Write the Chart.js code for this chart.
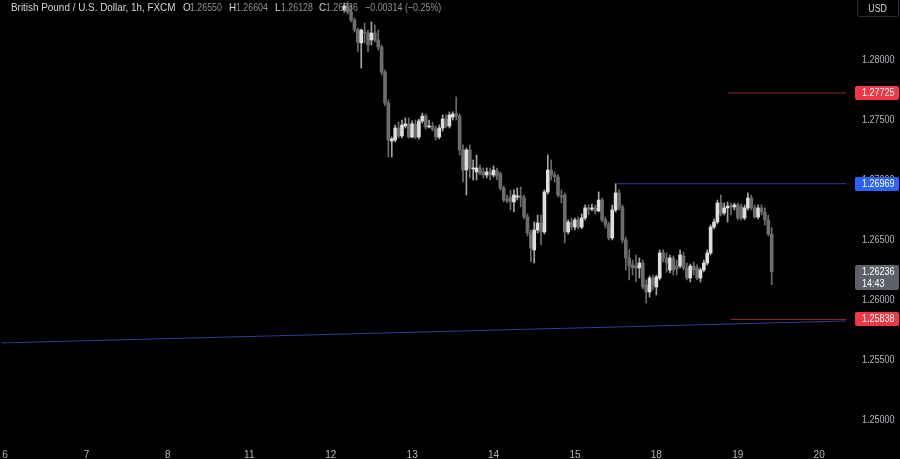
<!DOCTYPE html>
<html>
<head>
<meta charset="utf-8">
<script src="https://cdn.jsdelivr.net/npm/chart.js@4.4.1/dist/chart.umd.min.js"></script>
<style>
    html, body { margin: 0; padding: 0; background: #000; }
    #wrap { position: relative; width: 900px; height: 459px; overflow: hidden; }
    #chart { position: absolute; left: 0; top: 0; }
    #legend-top span {
        position: absolute; top: 0px;
        font: 11px "Liberation Sans", Arial, sans-serif;
        white-space: pre; line-height: 14px; transform-origin: 0 50%;
    }
    #currency {
        position: absolute; left: 857px; top: -1px; width: 42px; height: 18px;
        border: 1px solid #2a2e39; border-radius: 3px; box-sizing: border-box;
        font: 11px "Liberation Sans", Arial, sans-serif;
        color: #d1d4dc; text-align: center; line-height: 16px;
    }
    #currency span { display: inline-block; transform: scaleX(0.8); }
</style>
</head>
<body>
<div id="wrap">
    <canvas id="chart" width="900" height="459"></canvas>
    <div id="legend-top"></div>
    <div id="currency"><span>USD</span></div>
</div>
<script>
// === GBP/USD 1h candles (FXCM) ===
// hour slots skip the weekend, slot 0 = Dec 12 00:00
const firstCandleHour = 4;
const openPrices = [
    1.28417, 1.28450, 1.28400, 1.28333, 1.28250, 1.28142, 1.28233, 1.28225, 1.28167, 1.28225,
    1.28167, 1.28108, 1.27900, 1.27642, 1.27325, 1.27333, 1.27433, 1.27367, 1.27450, 1.27467,
    1.27358, 1.27467, 1.27358, 1.27492, 1.27533, 1.27442, 1.27450, 1.27425, 1.27358, 1.27433,
    1.27508, 1.27450, 1.27525, 1.27550, 1.27533, 1.27250, 1.27083, 1.27250, 1.27092, 1.27067,
    1.27100, 1.27067, 1.27042, 1.27067, 1.27042, 1.27075, 1.27050, 1.26933, 1.26842, 1.26858,
    1.26817, 1.26858, 1.26867, 1.26850, 1.26692, 1.26558, 1.26417, 1.26583, 1.26642, 1.26567,
    1.26900, 1.27083, 1.27042, 1.27025, 1.26867, 1.26875, 1.26567, 1.26650, 1.26608, 1.26667,
    1.26608, 1.26683, 1.26767, 1.26758, 1.26767, 1.26742, 1.26833, 1.26667, 1.26625, 1.26517,
    1.26750, 1.26892, 1.26775, 1.26500, 1.26350, 1.26292, 1.26283, 1.26267, 1.26308, 1.26125,
    1.26067, 1.26183, 1.26108, 1.26183, 1.26392, 1.26350, 1.26250, 1.26350, 1.26283, 1.26283,
    1.26367, 1.26267, 1.26183, 1.26283, 1.26267, 1.26183, 1.26250, 1.26308, 1.26392, 1.26608,
    1.26650, 1.26808, 1.26725, 1.26767, 1.26783, 1.26775, 1.26792, 1.26775, 1.26683, 1.26767,
    1.26850, 1.26767, 1.26692, 1.26767, 1.26733, 1.26667, 1.26550
];
const highPrices = [
    1.28475, 1.28483, 1.28458, 1.28350, 1.28267, 1.28258, 1.28308, 1.28250, 1.28317, 1.28292,
    1.28250, 1.28125, 1.27917, 1.27667, 1.27358, 1.27458, 1.27483, 1.27500, 1.27517, 1.27517,
    1.27492, 1.27500, 1.27508, 1.27558, 1.27550, 1.27500, 1.27483, 1.27450, 1.27458, 1.27542,
    1.27542, 1.27567, 1.27567, 1.27692, 1.27550, 1.27292, 1.27267, 1.27292, 1.27167, 1.27208,
    1.27125, 1.27100, 1.27100, 1.27100, 1.27117, 1.27100, 1.27067, 1.26950, 1.26875, 1.26917,
    1.26917, 1.26933, 1.26942, 1.26875, 1.26717, 1.26583, 1.26650, 1.26708, 1.26708, 1.26917,
    1.27208, 1.27167, 1.27067, 1.27042, 1.26917, 1.26892, 1.26667, 1.26683, 1.26683, 1.26692,
    1.26717, 1.26792, 1.26792, 1.26800, 1.26792, 1.26900, 1.26850, 1.26692, 1.26650, 1.26792,
    1.26969, 1.26917, 1.26792, 1.26525, 1.26417, 1.26333, 1.26375, 1.26350, 1.26333, 1.26167,
    1.26200, 1.26208, 1.26208, 1.26417, 1.26417, 1.26392, 1.26375, 1.26367, 1.26333, 1.26417,
    1.26400, 1.26308, 1.26300, 1.26317, 1.26292, 1.26267, 1.26333, 1.26417, 1.26625, 1.26675,
    1.26833, 1.26875, 1.26808, 1.26817, 1.26808, 1.26808, 1.26808, 1.26800, 1.26792, 1.26892,
    1.26875, 1.26792, 1.26792, 1.26792, 1.26767, 1.26708, 1.26604
];
const lowPrices = [
    1.28400, 1.28383, 1.28317, 1.28233, 1.28067, 1.27933, 1.28142, 1.28067, 1.28125, 1.28150,
    1.28083, 1.27875, 1.27617, 1.27192, 1.27192, 1.27317, 1.27350, 1.27350, 1.27433, 1.27350,
    1.27350, 1.27342, 1.27342, 1.27475, 1.27425, 1.27433, 1.27408, 1.27333, 1.27342, 1.27408,
    1.27433, 1.27433, 1.27500, 1.27500, 1.27208, 1.26983, 1.26875, 1.27017, 1.27000, 1.27000,
    1.27042, 1.27017, 1.27017, 1.27000, 1.27025, 1.27000, 1.26917, 1.26817, 1.26808, 1.26750,
    1.26733, 1.26833, 1.26775, 1.26675, 1.26533, 1.26317, 1.26308, 1.26558, 1.26458, 1.26550,
    1.26883, 1.27000, 1.26983, 1.26858, 1.26808, 1.26475, 1.26550, 1.26583, 1.26583, 1.26592,
    1.26592, 1.26667, 1.26708, 1.26742, 1.26717, 1.26733, 1.26650, 1.26600, 1.26500, 1.26500,
    1.26733, 1.26750, 1.26475, 1.26250, 1.26167, 1.26208, 1.26150, 1.26183, 1.26092, 1.25975,
    1.26025, 1.26083, 1.26042, 1.26167, 1.26317, 1.26233, 1.26225, 1.26208, 1.26208, 1.26267,
    1.26250, 1.26167, 1.26150, 1.26208, 1.26167, 1.26150, 1.26233, 1.26292, 1.26375, 1.26592,
    1.26633, 1.26700, 1.26708, 1.26650, 1.26708, 1.26750, 1.26667, 1.26667, 1.26667, 1.26750,
    1.26750, 1.26683, 1.26675, 1.26708, 1.26625, 1.26533, 1.26128
];
const closePrices = [
    1.28450, 1.28400, 1.28333, 1.28250, 1.28150, 1.28250, 1.28225, 1.28125, 1.28225, 1.28167,
    1.28108, 1.27900, 1.27642, 1.27333, 1.27342, 1.27433, 1.27367, 1.27458, 1.27467, 1.27358,
    1.27467, 1.27358, 1.27492, 1.27533, 1.27442, 1.27450, 1.27425, 1.27358, 1.27433, 1.27508,
    1.27450, 1.27542, 1.27550, 1.27533, 1.27250, 1.27083, 1.27250, 1.27100, 1.27100, 1.27100,
    1.27058, 1.27042, 1.27067, 1.27042, 1.27083, 1.27033, 1.26933, 1.26833, 1.26825, 1.26817,
    1.26875, 1.26867, 1.26850, 1.26692, 1.26558, 1.26433, 1.26583, 1.26642, 1.26567, 1.26900,
    1.27083, 1.27042, 1.27025, 1.26875, 1.26858, 1.26567, 1.26650, 1.26608, 1.26667, 1.26608,
    1.26683, 1.26767, 1.26750, 1.26767, 1.26742, 1.26833, 1.26667, 1.26625, 1.26517, 1.26750,
    1.26892, 1.26775, 1.26500, 1.26350, 1.26283, 1.26267, 1.26267, 1.26308, 1.26108, 1.26067,
    1.26183, 1.26125, 1.26192, 1.26392, 1.26350, 1.26308, 1.26350, 1.26250, 1.26258, 1.26375,
    1.26267, 1.26183, 1.26283, 1.26250, 1.26183, 1.26250, 1.26308, 1.26392, 1.26608, 1.26650,
    1.26808, 1.26717, 1.26767, 1.26783, 1.26775, 1.26792, 1.26683, 1.26683, 1.26767, 1.26850,
    1.26767, 1.26692, 1.26767, 1.26733, 1.26667, 1.26550, 1.26236
];

// x axis: day labels at the first hour of each trading day
const dayTickHours = [-96, -72, -48, -24, 0, 24, 48, 72, 96, 120, 144];
const dayTickLabels = ['6', '7', '8', '11', '12', '13', '14', '15', '18', '19', '20'];
const firstSlotHour = -97;
const lastSlotHour = 152;

// y axis
const priceMin = 1.24808;
const priceMax = 1.285;
const priceStep = 0.005;

// drawn levels
const resistanceLevel = 1.27725;
const resistanceFromHour = 117;
const swingHighLevel = 1.26969;
const swingHighFromHour = 84;
const supportLevel = 1.25838;
const supportFromHour = 118;
const trendlineHours = [-97, 152];
const trendlinePrices = [1.25642, 1.25825];
const barCountdown = '14:43';

const FONT = '"Liberation Sans", Arial, sans-serif';
const AXIS_TEXT = '#b2b5be';
const UP_BODY = '#dedede';
const UP_WICK = '#a5a5a5';
const DOWN_BODY = '#6c6c70';
const DOWN_WICK = '#6c6c70';

// --- Header (last bar OHLC) ---
function renderHeader() {
    const n = closePrices.length - 1;
    const change = closePrices[n] - closePrices[n - 1];
    const pct = change / closePrices[n - 1] * 100;
    const sign = v => (v < 0 ? '\u2212' : '+');
    const items = [
        { text: 'British Pound / U.S. Dollar, 1h, FXCM', x: 11, sx: 0.9, color: '#d1d4dc' },
        { text: 'O', x: 183, sx: 0.9, color: '#d1d4dc' },
        { text: openPrices[n].toFixed(5), x: 190, sx: 0.8, color: '#8c8f98' },
        { text: 'H', x: 229, sx: 0.9, color: '#d1d4dc' },
        { text: highPrices[n].toFixed(5), x: 236, sx: 0.8, color: '#8c8f98' },
        { text: 'L', x: 275, sx: 0.9, color: '#d1d4dc' },
        { text: lowPrices[n].toFixed(5), x: 281, sx: 0.8, color: '#8c8f98' },
        { text: 'C', x: 319, sx: 0.9, color: '#d1d4dc' },
        { text: closePrices[n].toFixed(5), x: 326, sx: 0.8, color: '#8c8f98' },
        { text: sign(change) + Math.abs(change).toFixed(5) + ' (' + sign(pct) + Math.abs(pct).toFixed(2) + '%)',
          x: 365, sx: 0.81, color: '#8c8f98' }
    ];
    const el = document.getElementById('legend-top');
    items.forEach(it => {
        const s = document.createElement('span');
        s.textContent = it.text;
        s.style.left = it.x + 'px';
        s.style.color = it.color;
        s.style.transform = 'scaleX(' + it.sx + ')';
        el.appendChild(s);
    });
}

// --- Slots ---
const slotHours = [];
for (let h = firstSlotHour; h <= lastSlotHour; h++) slotHours.push(h);

function candleAt(h) {
    const k = h - firstCandleHour;
    return (k >= 0 && k < closePrices.length) ? k : -1;
}
const bodyData = slotHours.map(h => { const k = candleAt(h); return k < 0 ? null : [openPrices[k], closePrices[k]]; });
const wickData = slotHours.map(h => { const k = candleAt(h); return k < 0 ? null : [lowPrices[k], highPrices[k]]; });
const bodyColors = slotHours.map(h => { const k = candleAt(h); return k >= 0 && closePrices[k] >= openPrices[k] ? UP_BODY : DOWN_BODY; });
const wickColors = slotHours.map(h => { const k = candleAt(h); return k >= 0 && closePrices[k] >= openPrices[k] ? UP_WICK : DOWN_WICK; });

function segment(fromHour, toHour, a, b) {
    return slotHours.map(h => h === fromHour ? a : (h === toHour ? b : null));
}

// --- Price axis labels and tags (narrow text like the TV screenshot) ---
const priceTags = [
    { value: resistanceLevel, color: '#f23645' },
    { value: swingHighLevel, color: '#2962ff' },
    { value: supportLevel, color: '#f23645' }
];

function narrowText(ctx, text, x, y) {
    ctx.save();
    ctx.translate(x, y);
    ctx.scale(0.9, 1);
    ctx.fillText(text, 0, 0);
    ctx.restore();
}

const priceAxisPlugin = {
    id: 'priceAxis',
    afterDraw(chart) {
        const ctx = chart.ctx;
        const y = chart.scales.y;
        const x0 = y.left + 7, x1 = chart.width - 1, tx = y.left + 14;
        ctx.save();
        ctx.font = '10px ' + FONT;
        ctx.textBaseline = 'middle';
        ctx.textAlign = 'left';
        // tick labels
        ctx.fillStyle = AXIS_TEXT;
        y.ticks.forEach(t => {
            if (t.value > 1.2825) return;
            narrowText(ctx, t.value.toFixed(5), tx, Math.round(y.getPixelForValue(t.value)) + 0.5);
        });
        // level tags
        priceTags.forEach(t => {
            const py = Math.round(y.getPixelForValue(t.value));
            ctx.fillStyle = t.color;
            ctx.beginPath();
            ctx.roundRect(x0, py - 7, x1 - x0, 14, 2);
            ctx.fill();
            ctx.fillStyle = '#ffffff';
            narrowText(ctx, t.value.toFixed(5), tx, py + 0.5);
        });
        // last price + countdown
        const last = closePrices[closePrices.length - 1];
        const py = Math.round(y.getPixelForValue(last));
        ctx.fillStyle = '#5d6068';
        ctx.beginPath();
        ctx.roundRect(x0, py - 7, x1 - x0, 25, 2);
        ctx.fill();
        ctx.fillStyle = '#ffffff';
        narrowText(ctx, last.toFixed(5), tx, py + 0.5);
        narrowText(ctx, barCountdown, tx, py + 12);
        ctx.restore();
    }
};

function lineSet(data, color) {
    return {
        type: 'line', data: data, borderColor: color, borderWidth: 1,
        pointRadius: 0, spanGaps: true, order: 0, tension: 0
    };
}

renderHeader();

new Chart(document.getElementById('chart'), {
    type: 'bar',
    data: {
        labels: slotHours,
        datasets: [
            {
                data: wickData, backgroundColor: wickColors, barThickness: 1,
                grouped: false, order: 2
            },
            {
                data: bodyData, backgroundColor: bodyColors, barThickness: 3,
                minBarLength: 1, grouped: false, order: 1
            },
            lineSet(segment(resistanceFromHour, lastSlotHour, resistanceLevel, resistanceLevel), '#8e2a31'),
            lineSet(segment(swingHighFromHour, lastSlotHour, swingHighLevel, swingHighLevel), '#323a9c'),
            lineSet(segment(supportFromHour, lastSlotHour, supportLevel, supportLevel), '#8e2a31'),
            lineSet(segment(trendlineHours[0], trendlineHours[1], trendlinePrices[0], trendlinePrices[1]), '#323a9c')
        ]
    },
    options: {
        responsive: false,
        animation: false,
        devicePixelRatio: 1,
        layout: { padding: 0 },
        plugins: { legend: { display: false }, tooltip: { enabled: false } },
        scales: {
            x: {
                type: 'category',
                grid: { display: false, drawTicks: false },
                border: { display: false },
                ticks: {
                    autoSkip: false, maxRotation: 0, padding: 6,
                    color: AXIS_TEXT, font: { family: FONT, size: 10 },
                    callback: function(value, index) {
                        const j = dayTickHours.indexOf(slotHours[index]);
                        return j >= 0 ? dayTickLabels[j] : null;
                    }
                },
                afterFit: s => {
                    s.height = 16;
                    // the plot runs right to the window edge, labels may be clipped
                    s.paddingLeft = 0;
                    s.paddingRight = 0;
                }
            },
            y: {
                position: 'right',
                min: priceMin, max: priceMax,
                grid: { display: false, drawTicks: false },
                border: { display: false },
                ticks: { display: false, stepSize: priceStep, includeBounds: false },
                afterFit: s => { s.width = 52; }
            }
        }
    },
    plugins: [priceAxisPlugin]
});
</script>
</body>
</html>
